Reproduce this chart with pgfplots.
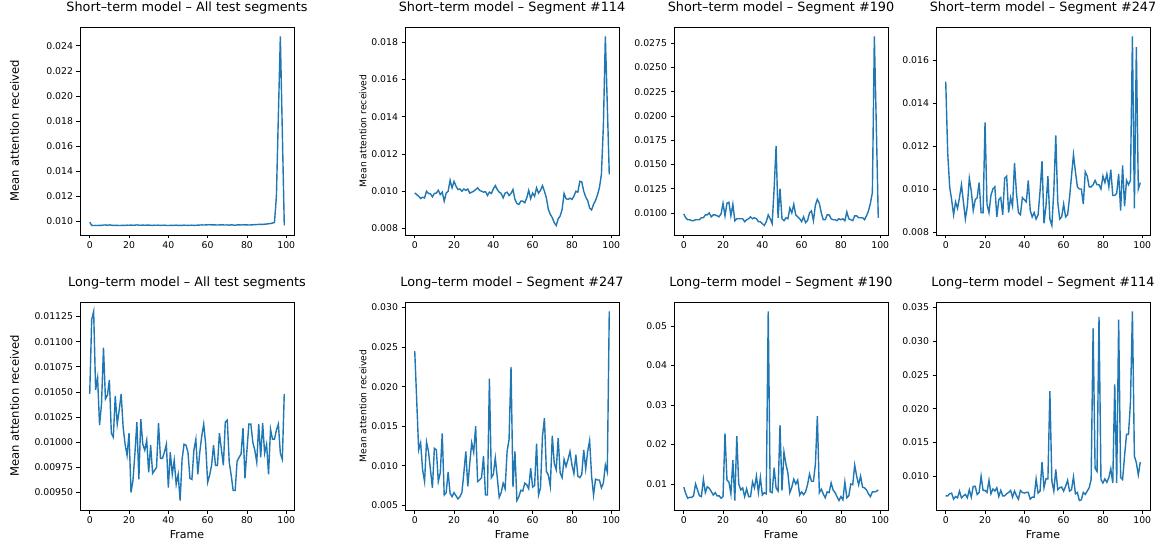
\documentclass[border=0pt]{standalone}
\usepackage{fontspec}
\setmainfont{DejaVu Sans}
\usepackage{pgfplots}
\usepackage{pgfplotstable}
\pgfplotsset{compat=1.18}
\definecolor{mplblue}{HTML}{1F77B4}

% short-term model: all segments, #114, #190, #247
\pgfplotstableread{
f sa ss114 ss190 ss247
0 0.00995 0.00991 0.0099 0.0150
1 0.00970 0.00982 0.0095 0.0117
2 0.00968 0.00973 0.0093 0.0101
3 0.00969 0.00961 0.0093 0.0095
4 0.00968 0.00968 0.0092 0.0088
5 0.00970 0.00964 0.0092 0.0094
6 0.00969 0.01000 0.0093 0.0091
7 0.00972 0.00988 0.0093 0.0096
8 0.00973 0.00986 0.0093 0.0102
9 0.00970 0.00970 0.0095 0.0094
10 0.00973 0.00988 0.0095 0.0086
11 0.00971 0.00990 0.0098 0.0092
12 0.00969 0.01005 0.0098 0.0105
13 0.00969 0.00982 0.0100 0.0099
14 0.00970 0.00995 0.0096 0.0090
15 0.00968 0.00947 0.0098 0.0095
16 0.00969 0.00990 0.0098 0.0096
17 0.00970 0.01000 0.0097 0.0103
18 0.00969 0.01059 0.0096 0.0089
19 0.00971 0.01018 0.0099 0.0089
20 0.00970 0.01053 0.0110 0.0131
21 0.00972 0.01027 0.0097 0.0093
22 0.00970 0.01009 0.0110 0.0089
23 0.00971 0.01012 0.0111 0.0097
24 0.00973 0.01000 0.0097 0.0100
25 0.00971 0.01012 0.0109 0.0101
26 0.00970 0.01005 0.0092 0.0087
27 0.00972 0.01012 0.0094 0.0095
28 0.00970 0.00990 0.0094 0.0096
29 0.00971 0.00995 0.0094 0.0088
30 0.00972 0.01000 0.0094 0.0105
31 0.00970 0.01009 0.0091 0.0106
32 0.00969 0.01018 0.0093 0.0089
33 0.00971 0.01005 0.0094 0.0096
34 0.00970 0.01000 0.0096 0.0092
35 0.00971 0.00995 0.0094 0.0112
36 0.00969 0.00998 0.0095 0.0098
37 0.00970 0.00977 0.0094 0.0089
38 0.00971 0.00995 0.0091 0.0088
39 0.00969 0.00988 0.0091 0.0096
40 0.00968 0.01012 0.0089 0.0095
41 0.00970 0.01030 0.0087 0.0094
42 0.00969 0.01009 0.0091 0.0104
43 0.00970 0.00995 0.0098 0.0090
44 0.00971 0.00988 0.0094 0.0087
45 0.00969 0.00964 0.0089 0.0089
46 0.00970 0.00990 0.0125 0.0086
47 0.00969 0.00995 0.0169 0.0088
48 0.00971 0.00977 0.0095 0.0099
49 0.00970 0.00988 0.0125 0.0113
50 0.00969 0.01009 0.0094 0.0084
51 0.00970 0.00956 0.0092 0.0092
52 0.00971 0.00934 0.0095 0.0106
53 0.00969 0.00929 0.0094 0.0086
54 0.00970 0.00947 0.0105 0.0083
55 0.00971 0.00947 0.0100 0.0099
56 0.00972 0.00938 0.0109 0.0125
57 0.00973 0.00964 0.0098 0.0094
58 0.00972 0.01005 0.0096 0.0086
59 0.00973 0.00960 0.0094 0.0087
60 0.00974 0.00990 0.0091 0.0093
61 0.00975 0.00973 0.0096 0.0087
62 0.00973 0.01018 0.0090 0.0088
63 0.00974 0.00990 0.0092 0.0096
64 0.00973 0.01005 0.0100 0.0106
65 0.00972 0.01030 0.0102 0.0116
66 0.00973 0.01000 0.0092 0.0108
67 0.00974 0.00964 0.0108 0.0101
68 0.00973 0.00902 0.0114 0.0100
69 0.00972 0.00876 0.0110 0.0100
70 0.00973 0.00858 0.0100 0.0093
71 0.00971 0.00831 0.0093 0.0108
72 0.00974 0.00816 0.0093 0.0106
73 0.00972 0.00852 0.0098 0.0101
74 0.00970 0.00867 0.0098 0.0101
75 0.00973 0.00902 0.0094 0.0102
76 0.00974 0.00988 0.0093 0.0104
77 0.00972 0.00960 0.0093 0.0102
78 0.00975 0.00956 0.0092 0.0102
79 0.00973 0.00963 0.0094 0.0100
80 0.00974 0.00956 0.0093 0.0106
81 0.00972 0.00973 0.0094 0.0103
82 0.00973 0.01000 0.0092 0.0107
83 0.00974 0.00995 0.0101 0.0101
84 0.00975 0.01053 0.0094 0.0109
85 0.00976 0.01050 0.0093 0.0097
86 0.00977 0.01000 0.0092 0.0097
87 0.00978 0.00970 0.0097 0.0098
88 0.00977 0.00950 0.0097 0.0107
89 0.00979 0.00910 0.0095 0.0090
90 0.00980 0.00900 0.0095 0.0111
91 0.00982 0.00930 0.0095 0.0092
92 0.00984 0.00950 0.0093 0.0104
93 0.00988 0.00980 0.0097 0.0102
94 0.00992 0.01020 0.0102 0.0104
95 0.01200 0.01090 0.0110 0.0171
96 0.01850 0.01350 0.0121 0.0091
97 0.02475 0.01830 0.0282 0.0166
98 0.01720 0.01460 0.0190 0.0100
99 0.00970 0.01090 0.0095 0.0103
}\shortterm

% long-term model: all segments, #247, #190, #114
\pgfplotstableread{
f la l247 l190 l114
0 0.01048 0.0245 0.0092 0.0071
1 0.01122 0.0183 0.0076 0.0071
2 0.01130 0.0120 0.0064 0.0074
3 0.01052 0.0129 0.0066 0.0075
4 0.01064 0.0095 0.0066 0.0066
5 0.01017 0.0080 0.0070 0.0070
6 0.01038 0.0130 0.0100 0.0068
7 0.01094 0.0118 0.0085 0.0078
8 0.01043 0.0095 0.0070 0.0068
9 0.01047 0.0072 0.0068 0.0071
10 0.01062 0.0122 0.0112 0.0073
11 0.01009 0.0120 0.0078 0.0068
12 0.01005 0.0080 0.0093 0.0080
13 0.01046 0.0091 0.0089 0.0069
14 0.01018 0.0141 0.0081 0.0085
15 0.01032 0.0063 0.0072 0.0085
16 0.01048 0.0066 0.0078 0.0073
17 0.01015 0.0092 0.0070 0.0076
18 0.00998 0.0065 0.0070 0.0100
19 0.00987 0.0061 0.0064 0.0079
20 0.01009 0.0066 0.0068 0.0079
21 0.00950 0.0062 0.0228 0.0076
22 0.00962 0.0058 0.0110 0.0094
23 0.00989 0.0061 0.0105 0.0074
24 0.01020 0.0066 0.0075 0.0081
25 0.00963 0.0091 0.0160 0.0078
26 0.01023 0.0118 0.0058 0.0083
27 0.00998 0.0074 0.0221 0.0070
28 0.00992 0.0103 0.0100 0.0079
29 0.01002 0.0129 0.0085 0.0071
30 0.00970 0.0117 0.0090 0.0071
31 0.00997 0.0150 0.0068 0.0074
32 0.00969 0.0080 0.0088 0.0076
33 0.00972 0.0082 0.0068 0.0079
34 0.00975 0.0085 0.0068 0.0069
35 0.01019 0.0112 0.0105 0.0078
36 0.00984 0.0063 0.0090 0.0071
37 0.00984 0.0063 0.0120 0.0066
38 0.00990 0.0210 0.0078 0.0079
39 0.00998 0.0085 0.0117 0.0076
40 0.00955 0.0089 0.0072 0.0075
41 0.00990 0.0110 0.0078 0.0076
42 0.00968 0.0085 0.0075 0.0076
43 0.00982 0.0060 0.0537 0.0066
44 0.00958 0.0066 0.0080 0.0069
45 0.00968 0.0078 0.0078 0.0069
46 0.00942 0.0071 0.0141 0.0096
47 0.00983 0.0118 0.0090 0.0075
48 0.00998 0.0133 0.0082 0.0078
49 0.00997 0.0225 0.0249 0.0121
50 0.00990 0.0073 0.0083 0.0083
51 0.00964 0.0118 0.0181 0.0096
52 0.00963 0.0056 0.0150 0.0096
53 0.00992 0.0061 0.0128 0.0226
54 0.01003 0.0069 0.0078 0.0093
55 0.00968 0.0068 0.0092 0.0078
56 0.00990 0.0078 0.0112 0.0110
57 0.01006 0.0076 0.0100 0.0080
58 0.01018 0.0071 0.0110 0.0083
59 0.00998 0.0097 0.0072 0.0084
60 0.00960 0.0073 0.0080 0.0078
61 0.00967 0.0075 0.0073 0.0085
62 0.00977 0.0128 0.0080 0.0094
63 0.00997 0.0063 0.0098 0.0078
64 0.00977 0.0072 0.0125 0.0080
65 0.00977 0.0137 0.0107 0.0099
66 0.01009 0.0160 0.0107 0.0074
67 0.00993 0.0093 0.0150 0.0076
68 0.00977 0.0088 0.0272 0.0064
69 0.01020 0.0074 0.0078 0.0065
70 0.01022 0.0138 0.0087 0.0076
71 0.00980 0.0103 0.0075 0.0073
72 0.00967 0.0095 0.0065 0.0078
73 0.00952 0.0135 0.0080 0.0083
74 0.00952 0.0091 0.0078 0.0095
75 0.00981 0.0085 0.0103 0.0319
76 0.00985 0.0108 0.0085 0.0112
77 0.00988 0.0099 0.0078 0.0107
78 0.01014 0.0108 0.0068 0.0336
79 0.00964 0.0118 0.0058 0.0095
80 0.00992 0.0101 0.0068 0.0090
81 0.01018 0.0090 0.0060 0.0096
82 0.01018 0.0114 0.0105 0.0091
83 0.01000 0.0087 0.0065 0.0098
84 0.00992 0.0085 0.0070 0.0111
85 0.00980 0.0089 0.0100 0.0090
86 0.01018 0.0120 0.0098 0.0236
87 0.00985 0.0096 0.0148 0.0090
88 0.01019 0.0118 0.0120 0.0332
89 0.00989 0.0132 0.0098 0.0098
90 0.00998 0.0087 0.0120 0.0095
91 0.00968 0.0063 0.0092 0.0130
92 0.01013 0.0083 0.0090 0.0162
93 0.01003 0.0082 0.0085 0.0162
94 0.01003 0.0082 0.0075 0.0209
95 0.01012 0.0072 0.0068 0.0344
96 0.01018 0.0078 0.0080 0.0130
97 0.00989 0.0101 0.0080 0.0120
98 0.00983 0.0092 0.0081 0.0102
99 0.01048 0.0295 0.0085 0.0121
}\longterm

\pgfplotsset{
  panel/.style={
    width=214pt, height=208pt, scale only axis,
    anchor=south west,
    xmin=-4.95, xmax=103.95,
    enlarge y limits=0.05,
    scaled y ticks=false,
    axis line style={black, line width=0.8pt},
    tick align=outside, tick pos=left,
    major tick length=3.5pt,
    every tick/.style={black, line width=0.8pt},
    xtick={0,20,40,60,80,100},
    xticklabels={0,20,40,60,80,100},
    tick label style={font=\fontsize{9.3}{11}\selectfont},
    title style={font=\fontsize{12.8}{15}\selectfont,
      at={(axis description cs:0.5,1)}, anchor=center, yshift=13.5pt},
    xlabel style={font=\fontsize{11}{13}\selectfont,
      at={(axis description cs:0.5,0)}, anchor=center, yshift=-25pt},
  },
  bigy/.style={ylabel={Mean attention received},
    ylabel style={font=\fontsize{11.6}{13}\selectfont,
      at={(axis description cs:-0.306,0.5)}, anchor=center}},
  smally/.style={ylabel={Mean attention received},
    ylabel style={font=\fontsize{9.2}{11}\selectfont,
      at={(axis description cs:-0.196,0.5)}, anchor=center}},
  curve/.style={mplblue, line width=1.4pt, no marks},
}

\begin{document}
\begin{tikzpicture}
\path[use as bounding box] (0,0) rectangle (1163pt,544pt);

% top row
\begin{axis}[panel, bigy, at={(80pt,309pt)},
  title={Short–term model – All test segments},
  ytick={0.010,0.012,0.014,0.016,0.018,0.020,0.022,0.024},
  yticklabels={0.010,0.012,0.014,0.016,0.018,0.020,0.022,0.024}]
\addplot[curve] table[x=f, y=sa] {\shortterm};
\end{axis}

\begin{axis}[panel, smally, at={(405pt,309pt)},
  title={Short–term model – Segment \#114},
  ytick={0.008,0.010,0.012,0.014,0.016,0.018},
  yticklabels={0.008,0.010,0.012,0.014,0.016,0.018}]
\addplot[curve] table[x=f, y=ss114] {\shortterm};
\end{axis}

\begin{axis}[panel, at={(674pt,309pt)},
  title={Short–term model – Segment \#190},
  ytick={0.0100,0.0125,0.0150,0.0175,0.0200,0.0225,0.0250,0.0275},
  yticklabels={0.0100,0.0125,0.0150,0.0175,0.0200,0.0225,0.0250,0.0275}]
\addplot[curve] table[x=f, y=ss190] {\shortterm};
\end{axis}

\begin{axis}[panel, at={(936pt,309pt)},
  title={Short–term model – Segment \#247},
  ytick={0.008,0.010,0.012,0.014,0.016},
  yticklabels={0.008,0.010,0.012,0.014,0.016}]
\addplot[curve] table[x=f, y=ss247] {\shortterm};
\end{axis}

% bottom row
\begin{axis}[panel, bigy, at={(80pt,34pt)}, xlabel={Frame},
  title={Long–term model – All test segments},
  ytick={0.0095,0.00975,0.01,0.01025,0.0105,0.01075,0.011,0.01125},
  yticklabels={0.00950,0.00975,0.01000,0.01025,0.01050,0.01075,0.01100,0.01125}]
\addplot[curve] table[x=f, y=la] {\longterm};
\end{axis}

\begin{axis}[panel, smally, at={(405pt,34pt)}, xlabel={Frame},
  title={Long–term model – Segment \#247},
  ytick={0.005,0.010,0.015,0.020,0.025,0.030},
  yticklabels={0.005,0.010,0.015,0.020,0.025,0.030}]
\addplot[curve] table[x=f, y=l247] {\longterm};
\end{axis}

\begin{axis}[panel, at={(674pt,34pt)}, xlabel={Frame},
  title={Long–term model – Segment \#190},
  ytick={0.01,0.02,0.03,0.04,0.05},
  yticklabels={0.01,0.02,0.03,0.04,0.05}]
\addplot[curve] table[x=f, y=l190] {\longterm};
\end{axis}

\begin{axis}[panel, at={(936pt,34pt)}, xlabel={Frame},
  title={Long–term model – Segment \#114},
  ytick={0.010,0.015,0.020,0.025,0.030,0.035},
  yticklabels={0.010,0.015,0.020,0.025,0.030,0.035}]
\addplot[curve] table[x=f, y=l114] {\longterm};
\end{axis}
\end{tikzpicture}
\end{document}
